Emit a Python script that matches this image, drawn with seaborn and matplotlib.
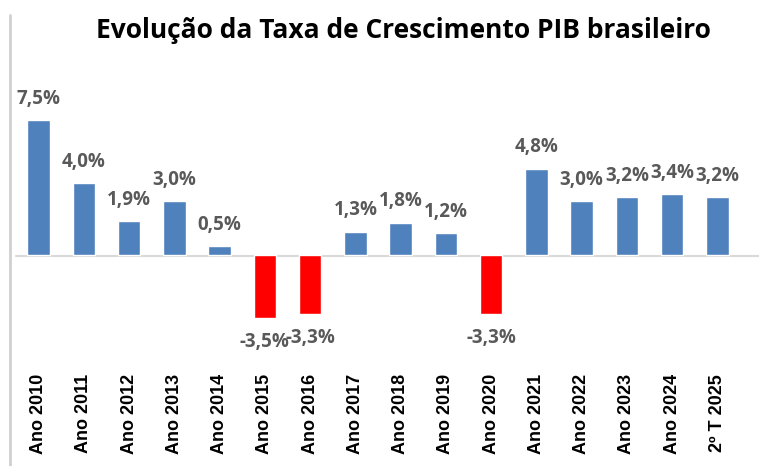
import matplotlib
matplotlib.use("Agg")
import matplotlib.pyplot as plt
import seaborn as sns
import pandas as pd
from matplotlib.lines import Line2D

# dados
categorias = ["Ano 2010", "Ano 2011", "Ano 2012", "Ano 2013", "Ano 2014", "Ano 2015",
              "Ano 2016", "Ano 2017", "Ano 2018", "Ano 2019", "Ano 2020", "Ano 2021",
              "Ano 2022", "Ano 2023", "Ano 2024", "2º T 2025"]
taxas = [7.5, 4.0, 1.9, 3.0, 0.5, -3.5, -3.3, 1.3, 1.8, 1.2, -3.3, 4.8, 3.0, 3.2, 3.4, 3.2]

titulo = "Evolução da Taxa de Crescimento PIB brasileiro"

df = pd.DataFrame({"ano": categorias, "taxa": taxas})
df["sinal"] = ["pos" if v >= 0 else "neg" for v in taxas]

sns.set_theme(style="white")
plt.rcParams["font.family"] = ["Open Sans", "DejaVu Sans"]

W, H = 759, 466
fig = plt.figure(figsize=(W / 100, H / 100), dpi=100)
# eixo posicionado em pixels: x 16..740, y 60..360 (zero em y=255)
ax = fig.add_axes([16 / W, 1 - 360 / H, 724 / W, 300 / H])
ax.patch.set_alpha(0)

sns.barplot(data=df, x="ano", y="taxa", hue="sinal",
            palette={"pos": "#4F81BD", "neg": "#FF0000"},
            width=0.5, legend=False, ax=ax, saturation=1)

ax.set_xlim(-0.5, len(categorias) - 0.5)
ax.set_ylim(-(360 - 255) / 18, (255 - 60) / 18)

for spine in ax.spines.values():
    spine.set_visible(False)
ax.set_yticks([])
ax.set_xlabel("")
ax.set_ylabel("")
ax.tick_params(axis="x", length=0, pad=10)
ax.set_xticks(range(len(categorias)))
ax.set_xticklabels(categorias, rotation=90, fontsize=13, fontweight="bold",
                   family=["Liberation Sans", "DejaVu Sans"], color="black")

# rótulos de dados
for i, v in enumerate(taxas):
    txt = f"{v:.1f}%".replace(".", ",")
    if v >= 0:
        ax.annotate(txt, (i, v), xytext=(0, 8), textcoords="offset points",
                    ha="center", va="bottom", fontsize=13.5, fontweight="bold", color="#595959")
    else:
        ax.annotate(txt, (i, v), xytext=(0, -10), textcoords="offset points",
                    ha="center", va="top", fontsize=13.5, fontweight="bold", color="#595959")

fig.text(403 / W, 1 - 30 / H, titulo, ha="center", va="center",
         fontsize=19, fontweight="bold", color="black")

# linha do zero até a borda direita
fig.add_artist(Line2D([16 / W, 1], [1 - 255.5 / H, 1 - 255.5 / H], transform=fig.transFigure,
                      color="#D9D9D9", linewidth=1.5, zorder=0))
# sombra da moldura à esquerda
fig.add_artist(Line2D([10 / W, 10 / W], [0, 1 - 15 / H], transform=fig.transFigure,
                      color="#D0D0D0", linewidth=2))

fig.savefig("out.png", dpi=100)
